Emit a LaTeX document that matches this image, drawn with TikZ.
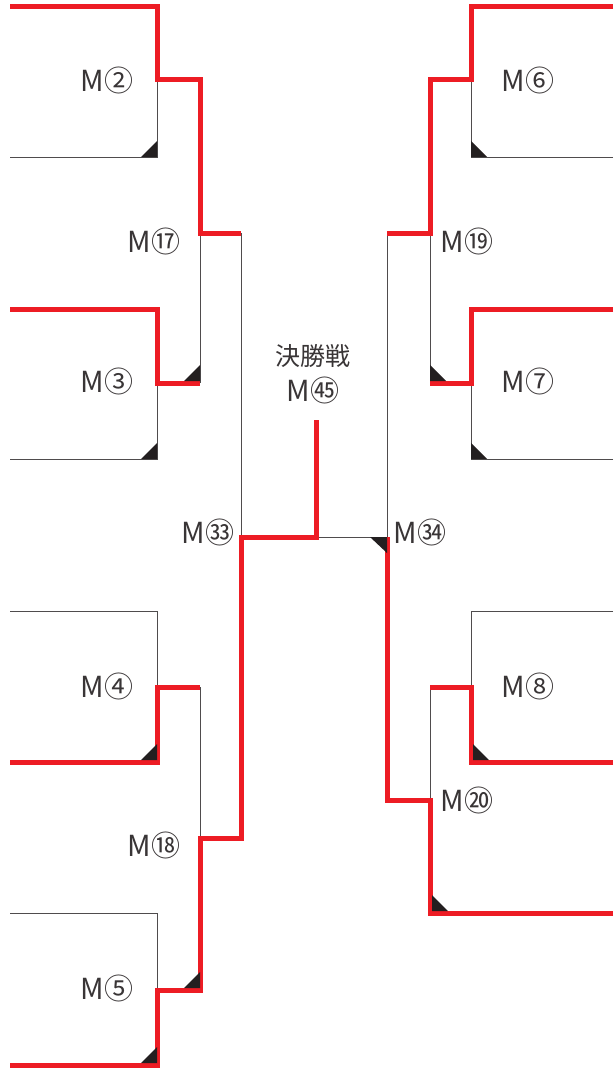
\documentclass[tikz,border=0pt]{standalone}
\usepackage{fontspec}
\setmainfont{Noto Sans CJK JP}
\definecolor{win}{HTML}{ED1C24}
\definecolor{ink}{HTML}{231F20}
\begin{document}
\begin{tikzpicture}[x=1pt,y=-1pt,
  winline/.style={draw=win,line width=5pt,line join=miter,line cap=butt},
  thinline/.style={draw=ink!80,line width=1pt},
  tri/.style={fill=ink,draw=none},
  lbl/.style={font=\fontsize{29}{33}\selectfont,text=ink!90,inner sep=0pt}]
\useasboundingbox (0,0) rectangle (613,1070);
% thin bracket lines (left)
\draw[thinline] (10,157) -- (157,157) -- (157,80);
\draw[thinline] (200,233) -- (200,383);
\draw[thinline] (10,459) -- (157,459) -- (157,383);
\draw[thinline] (241,233) -- (241,537);
\draw[thinline] (316,537) -- (387,537) -- (387,233);
\draw[thinline] (10,611) -- (157,611) -- (157,687);
\draw[thinline] (200,687) -- (200,838);
\draw[thinline] (10,913) -- (157,913) -- (157,990);
% thin bracket lines (right)
\draw[thinline] (613,157) -- (471,157) -- (471,80);
\draw[thinline] (430,233) -- (430,383);
\draw[thinline] (613,459) -- (471,459) -- (471,383);
\draw[thinline] (613,611) -- (471,611) -- (471,687);
\draw[thinline] (430,687) -- (430,800);
% winner paths
\draw[winline] (10,7) -- (157,7) -- (157,80) -- (200,80) -- (200,233) -- (241,233);
\draw[winline] (10,309) -- (157,309) -- (157,383) -- (200,383);
\draw[winline] (10,762) -- (157,762) -- (157,687) -- (200,687);
\draw[winline] (10,1065) -- (157,1065) -- (157,990) -- (200,990) -- (200,838) -- (241,838) -- (241,537) -- (316,537) -- (316,420);
\draw[winline] (613,7) -- (471,7) -- (471,80) -- (430,80) -- (430,233) -- (387,233);
\draw[winline] (613,309) -- (471,309) -- (471,383) -- (430,383);
\draw[winline] (613,762) -- (471,762) -- (471,687) -- (430,687);
\draw[winline] (613,913) -- (430,913) -- (430,800) -- (387,800) -- (387,537);
% corner triangles
\fill[tri] (141,157) -- (157,157) -- (157,141) -- cycle;
\fill[tri] (184,381) -- (200,381) -- (200,365) -- cycle;
\fill[tri] (141,459) -- (157,459) -- (157,443) -- cycle;
\fill[tri] (141,760) -- (157,760) -- (157,744) -- cycle;
\fill[tri] (184,988) -- (200,988) -- (200,972) -- cycle;
\fill[tri] (141,1063) -- (157,1063) -- (157,1047) -- cycle;
\fill[tri] (370,537) -- (387,537) -- (387,553) -- cycle;
\fill[tri] (471,141) -- (471,157) -- (487,157) -- cycle;
\fill[tri] (430,365) -- (430,381) -- (446,381) -- cycle;
\fill[tri] (471,443) -- (471,459) -- (487,459) -- cycle;
\fill[tri] (473,744) -- (473,760) -- (489,760) -- cycle;
\fill[tri] (432,895) -- (432,911) -- (448,911) -- cycle;
% labels
\node[lbl] (m2) at (107,80) {M②};
\node[lbl] (m3) at (107,381) {M③};
\node[lbl] (m4) at (107,686) {M④};
\node[lbl] (m5) at (107,988) {M⑤};
\node[lbl] (m17) at (154,241) {M⑰};
\node[lbl] (m18) at (154,845) {M⑱};
\node[lbl] (m33) at (208,532) {M㉝};
\node[lbl] (m6) at (528,80) {M⑥};
\node[lbl] (m7) at (528,381) {M⑦};
\node[lbl] (m8) at (528,686) {M⑧};
\node[lbl] (m19) at (467,241) {M⑲};
\node[lbl] (m20) at (467,800) {M⑳};
\node[lbl] (m34) at (420,532) {M㉞};
\node[lbl,font=\fontsize{25}{30}\selectfont] (fin) at (313,356) {決勝戦};
\node[lbl] (m45) at (313,390) {M㊺};
\end{tikzpicture}
\end{document}
